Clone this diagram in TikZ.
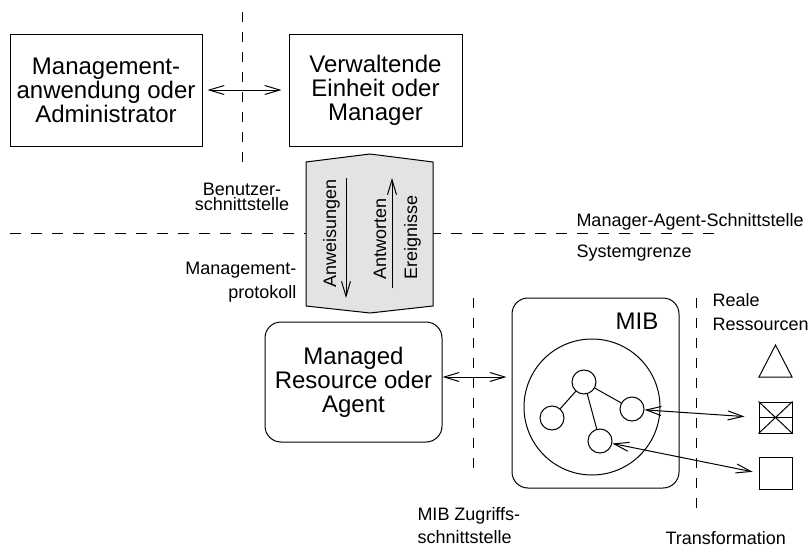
\documentclass[tikz,border=0pt]{standalone}
\usepackage{fontspec}
\setmainfont{Liberation Sans}
\usetikzlibrary{arrows.meta}

\begin{document}
\begin{tikzpicture}[x=1pt,y=-1pt,line width=1pt,
  big/.style={font=\fontsize{24}{24}\selectfont,align=center,inner sep=0pt},
  small/.style={font=\fontsize{18}{24}\selectfont,inner sep=0pt},
  plainbox/.style={draw,inner sep=0pt},
  roundbox/.style={draw,rounded corners=16pt,inner sep=0pt},
  dline/.style={dash pattern=on 10pt off 10pt},
  both/.style={{Straight Barb[length=15pt,width=9pt]}-{Straight Barb[length=15pt,width=9pt]}},
  onetip/.style={-{Straight Barb[length=15pt,width=9pt]}},
  leaf/.style={draw,circle,minimum size=24pt,inner sep=0pt},
  res/.style={draw,minimum size=32pt,inner sep=0pt}]
\useasboundingbox (0,0) rectangle (812,546);

% interface boundaries
\draw[dline] (242,12) -- (242,172);
\draw[dash pattern=on 11pt off 10pt] (10,233) -- (720,233);
\draw[dline] (473,298) -- (473,478);
\draw[dline] (696,298) -- (696,513);

% management application and manager
\node[plainbox,big,minimum width=192pt,minimum height=112pt] (app) at (106,90)
  {Management-\\anwendung oder\\Administrator};
\node[plainbox,big,minimum width=173pt,minimum height=112pt] (mgr) at (375.5,90)
  {Verwaltende\\Einheit oder\\Manager};
\draw[both,shorten <=5pt,shorten >=7pt] (app) -- (mgr);

% management protocol channel
\path (306,162) coordinate (pA) (370,154) coordinate (pB) (433,162) coordinate (pC)
      (433,306) coordinate (pD) (370,313) coordinate (pE) (306,306) coordinate (pF);
\draw[fill=black!11] (pA) -- (pB) -- (pC) -- (pD) -- (pE) -- (pF) -- cycle;
\coordinate (cmdS) at (346,178);
\coordinate (cmdE) at (346,298);
\coordinate (ansS) at (392,288);
\coordinate (ansE) at (392,178);
\draw[onetip] (cmdS) -- (cmdE);
\draw[onetip] (ansS) -- (ansE);
\node[small,rotate=90,anchor=base west] (cmd) at (336,288) {Anweisungen};
\node[small,rotate=90,anchor=base west] (ans) at (386,280) {Antworten};
\node[small,rotate=90,anchor=base west] (evt) at (417,280) {Ereignisse};

% agent and MIB
\node[roundbox,big,minimum width=177pt,minimum height=120pt] (agent) at (353.5,382)
  {Managed\\Resource oder\\Agent};
\node[roundbox,minimum width=167pt,minimum height=190pt] (mibbox) at (595.5,393) {};
\draw[both,shorten >=5pt] (agent.east |- 0,377) -- (mibbox.west |- 0,377);
\node[big,anchor=base] (mib) at (637,329) {MIB};
\node[draw,circle,minimum size=136pt,inner sep=0pt] (tree) at (592,407) {};
\node[leaf] (n1) at (584,382) {};
\node[leaf] (n2) at (552,418) {};
\node[leaf] (n3) at (632,409) {};
\node[leaf] (n4) at (600,441) {};
\draw (n1) -- (n2);
\draw (n1) -- (n3);
\draw (n1) -- (n4);

% real resources
\coordinate (t1) at (759,377);
\coordinate (t2) at (792,377);
\coordinate (t3) at (775.5,345);
\draw (t1) -- (t2) -- (t3) -- cycle;
\node[res,minimum height=31pt,minimum width=33pt] (crossed) at (775.5,417.5) {};
\draw (crossed.west) -- (crossed.east);
\draw (crossed.north west) -- (crossed.south east);
\draw (crossed.north east) -- (crossed.south west);
\node[res,minimum width=33pt] (plain) at (775.5,473) {};
\draw[both,shorten >=14pt] (n3) -- (crossed.west);
\draw[both,shorten >=6pt] (n4) -- (plain.west);

% labels
\node[small,anchor=base] (ui1) at (242,195) {Benutzer-};
\node[small,anchor=base] (ui2) at (242,210) {schnittstelle};
\node[small,anchor=base east] (mp1) at (297,274) {Management-};
\node[small,anchor=base east] (mp2) at (297,298) {protokoll};
\node[small,anchor=base west] (mas) at (576,226) {Manager-Agent-Schnittstelle};
\node[small,anchor=base west] (sys) at (576,257) {Systemgrenze};
\node[small,anchor=base west] (rr1) at (712,306) {Reale};
\node[small,anchor=base west] (rr2) at (712,330) {Ressourcen};
\node[small,anchor=base west] (acc1) at (417,520) {MIB Zugriffs-};
\node[small,anchor=base west] (acc2) at (417,543) {schnittstelle};
\node[small,anchor=base west] (tr) at (665,544) {Transformation};
\end{tikzpicture}
\end{document}
